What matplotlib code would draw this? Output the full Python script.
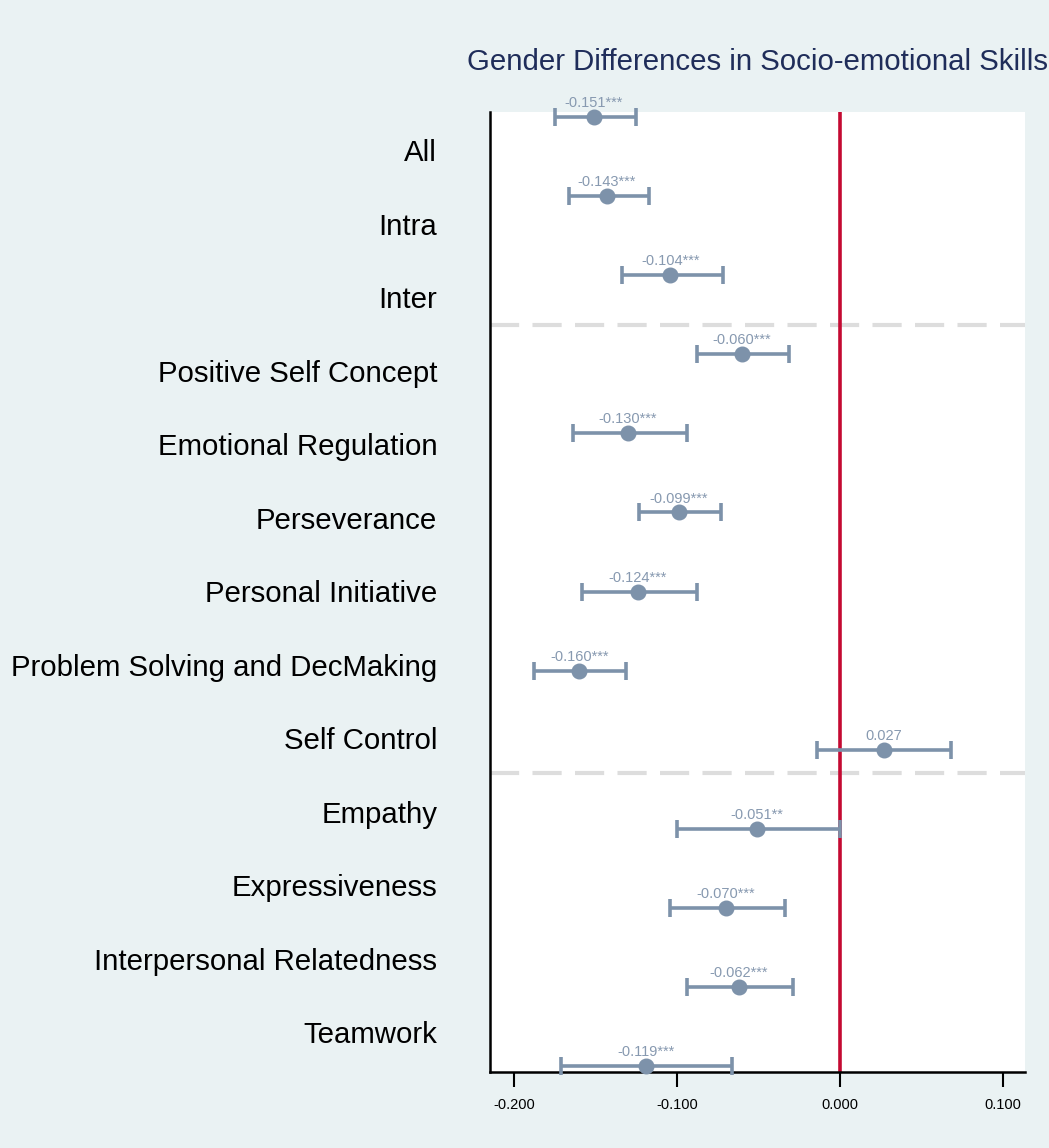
import matplotlib
matplotlib.use('Agg')
import matplotlib.pyplot as plt
import numpy as np

plt.rcParams['font.family'] = ['Liberation Sans', 'DejaVu Sans']

skills = ['All', 'Intra', 'Inter', 'Positive Self Concept', 'Emotional Regulation',
          'Perseverance', 'Personal Initiative', 'Problem Solving and DecMaking',
          'Self Control', 'Empathy', 'Expressiveness', 'Interpersonal Relatedness',
          'Teamwork']
coef = [-0.151, -0.143, -0.104, -0.060, -0.130, -0.099, -0.124, -0.160,
        0.027, -0.051, -0.070, -0.062, -0.119]
ci_lo = [-0.175, -0.166, -0.134, -0.088, -0.164, -0.123, -0.158, -0.188,
         -0.014, -0.100, -0.104, -0.094, -0.171]
ci_hi = [-0.125, -0.117, -0.072, -0.031, -0.094, -0.073, -0.088, -0.131,
         0.068, 0.000, -0.034, -0.029, -0.066]
stars = ['***', '***', '***', '***', '***', '***', '***', '***', '', '**', '***', '***', '***']
xticks = [-0.2, -0.1, 0.0, 0.1]

bg = '#EAF2F3'
mcol = '#7D92AA'
tcol = '#8799B0'

fig = plt.figure(figsize=(10.49, 11.48), dpi=100, facecolor=bg)
ax = fig.add_axes([0.4671, 0.0662, 0.51, 0.8362])
ax.set_facecolor('white')

n = len(skills)
y = np.arange(n)
coef = np.array(coef)
err = [coef - np.array(ci_lo), np.array(ci_hi) - coef]

# group separators
for yl in [2.63, 8.30]:
    ax.axhline(yl, color='#DDDDDD', lw=3, dashes=(7, 3.2), zorder=1)
ax.axvline(0, color='#C40A32', lw=2.6, zorder=2)

ax.errorbar(coef, y, xerr=err, fmt='o', color=mcol, ms=10.5, lw=2.6,
            capsize=6.5, capthick=2.6, zorder=3, clip_on=False)

for i in range(n):
    ax.annotate('%.3f%s' % (coef[i], stars[i]), (coef[i], y[i]), xytext=(0, 10),
                textcoords='offset points', ha='center', va='center',
                fontsize=10.5, color=tcol, zorder=4, annotation_clip=False)

ax.set_xlim(-0.2147, 0.1135)
ax.set_ylim(12.076, -0.063)
ax.set_xticks(xticks)
ax.set_xticklabels(['%.3f' % v for v in xticks], fontsize=10.5)
ax.tick_params(axis='x', length=11, width=1.5, pad=8)

# labels sit on their own evenly spaced slots (Stata style)
ax.set_yticks(np.linspace(0.417, 11.571, n))
ax.set_yticklabels(skills, fontsize=21.2)
ax.tick_params(axis='y', length=0, pad=38)

for s in ['top', 'right']:
    ax.spines[s].set_visible(False)
ax.spines['left'].set_linewidth(1.8)
ax.spines['bottom'].set_linewidth(1.8)

fig.text(0.7221, 0.9462, 'Gender Differences in Socio-emotional Skills',
         ha='center', va='center', fontsize=21.2, color='#1F2D5A')

fig.savefig('out.png', dpi=100, facecolor=bg)
